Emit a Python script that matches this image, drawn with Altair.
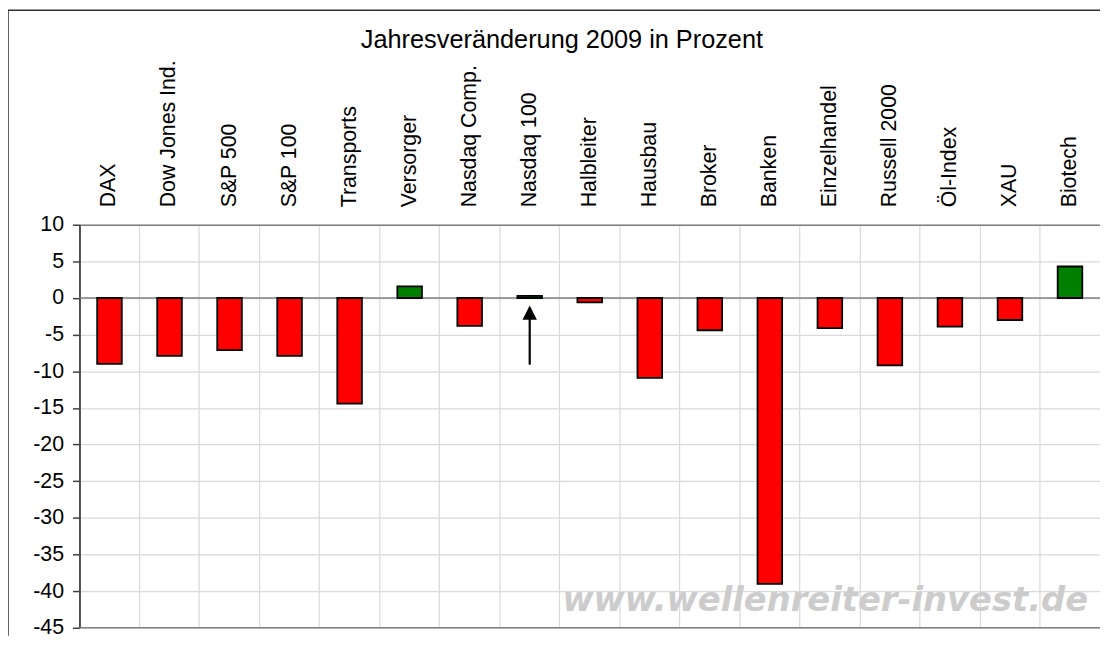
import altair as alt
import pandas as pd

# ---- data ----
categories = ["DAX", "Dow Jones Ind.", "S&P 500", "S&P 100", "Transports", "Versorger",
              "Nasdaq Comp.", "Nasdaq 100", "Halbleiter", "Hausbau", "Broker", "Banken",
              "Einzelhandel", "Russell 2000", "Öl-Index", "XAU", "Biotech"]
changes = [-9.0, -7.9, -7.1, -7.9, -14.4, 1.6, -3.8, 0.3, -0.6, -10.9, -4.4, -39.0,
           -4.1, -9.2, -3.9, -3.0, 4.3]
y_ticks = [-45, -40, -35, -30, -25, -20, -15, -10, -5, 0, 5, 10]
y_domain = [-45, 10]

arrow_category = ["Nasdaq 100"]
arrow_tail = [-9.1]
arrow_shaft_end = [-2.6]
arrow_head = [-2.0]

title_text = "Jahresveränderung 2009 in Prozent"
watermark_text = "www.wellenreiter-invest.de"
watermark_level = [-41.4]

W, H = 1028, 406
FONT = "Liberation Sans"

df = pd.DataFrame({"Index": categories, "Wert": changes})
df_arrow = pd.DataFrame({"Index": arrow_category, "tail": arrow_tail,
                         "shaft_end": arrow_shaft_end, "head": arrow_head})
df_one = pd.DataFrame({"wm": watermark_level})

x_scale = alt.Scale(domain=categories, paddingInner=0, paddingOuter=0)
y_scale = alt.Scale(domain=y_domain, nice=False, zero=False)

x_axis = alt.Axis(orient="top", title=None, labelAngle=270, labelAlign="left",
                  labelBaseline="middle", labelFontSize=21.5, labelFont=FONT,
                  labelColor="black", labelPadding=18, ticks=False, tickSize=0,
                  domain=True, domainColor="#808080", domainWidth=1.5,
                  grid=True, gridColor="#d9d9d9", gridWidth=1.2, bandPosition=0)
y_axis = alt.Axis(title=None, values=y_ticks, tickCount=24, labelFontSize=21.5,
                  labelFont=FONT, labelColor="black", labelPadding=9,
                  labelOverlap=False, labelFlush=False, labelExpr="'' + datum.value",
                  tickSize=7, tickColor="#404040",
                  tickWidth=1.5, domainColor="#404040", domainWidth=1.8,
                  grid=True, gridColor="#d9d9d9", gridWidth=1.2)


def xe(field="Index:N"):
    return alt.X(field, scale=x_scale, sort=categories, axis=x_axis)


base = alt.Chart(df)

watermark = alt.Chart(df_one).mark_text(
    text=watermark_text, align="right", baseline="middle", font="DejaVu Sans",
    fontSize=34, fontStyle="italic", fontWeight="bold", color="#cccccc"
).encode(x=alt.value(W - 12), y=alt.Y("wm:Q", scale=y_scale, axis=y_axis))

zero_line = alt.Chart(df_one).mark_rule(color="#808080", strokeWidth=1.5).encode(
    y=alt.datum(0))
bottom_line = alt.Chart(df_one).mark_rule(color="#808080", strokeWidth=1.5).encode(
    y=alt.datum(-45))

bars = base.mark_bar(width=alt.RelativeBandSize(0.41), stroke="black",
                     strokeWidth=1.8).encode(
    x=xe(),
    y=alt.Y("Wert:Q", scale=y_scale, axis=y_axis),
    y2=alt.datum(0),
    color=alt.condition("datum.Wert > 0", alt.value("#008000"), alt.value("#ff0000")),
)

arrow_shaft = alt.Chart(df_arrow).mark_rule(color="black", strokeWidth=2.2).encode(
    x=xe(), y=alt.Y("tail:Q", scale=y_scale, axis=y_axis), y2="shaft_end:Q")
arrow_tip = alt.Chart(df_arrow).mark_point(
    shape="M0,-1L1,1L-1,1Z", filled=True, size=210, color="black", opacity=1
).encode(x=xe(), y=alt.Y("head:Q", scale=y_scale, axis=y_axis))

border_left = alt.Chart(df_one).mark_rule(color="#303030", strokeWidth=1.5).encode(
    x=alt.value(-72), y=alt.value(-216), y2=alt.value(H + 8))
border_top = alt.Chart(df_one).mark_rule(color="#303030", strokeWidth=1.5).encode(
    x=alt.value(-72), x2=alt.value(W), y=alt.value(-216))

chart = alt.layer(
    watermark, zero_line, bottom_line, bars, arrow_shaft, arrow_tip,
    border_left, border_top
).properties(
    width=W, height=H,
    title=alt.Title(title_text, fontSize=25.5, font=FONT, fontWeight="normal",
                    color="black", anchor="middle", frame="group", dx=-28,
                    baseline="alphabetic", offset=-64),
    autosize=alt.AutoSizeParams(type="none"),
    padding={"left": 72, "top": 216, "right": 0, "bottom": 8},
).configure_view(stroke="transparent")

chart.save("out.html", embed_options={"renderer": "svg", "actions": False})
